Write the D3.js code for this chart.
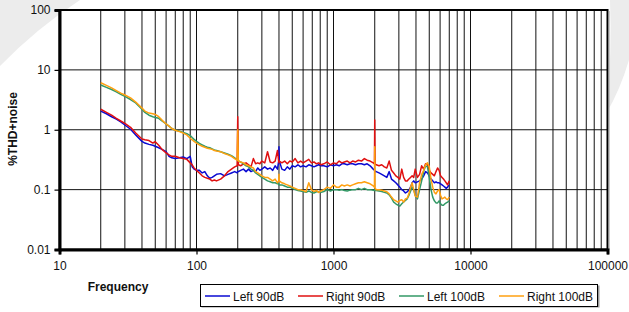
<!DOCTYPE html>
<html>
<head>
<meta charset="utf-8">
<script src="https://cdn.jsdelivr.net/npm/d3@7"></script>
<style>
  body { margin: 0; background: #fff; }
  text { font-family: Arial, "Liberation Sans", sans-serif; }
</style>
</head>
<body>
<script>
// frequency points (Hz)
const freq = [
    20, 22, 24, 26, 28, 30, 33, 36, 40, 42,
    45, 48, 50, 53, 56, 60, 63, 66, 70, 75,
    80, 85, 90, 93, 96, 100, 105, 110, 115, 120,
    125, 130, 135, 140, 150, 160, 170, 180, 190, 198,
    200, 202, 210, 220, 230, 240, 250, 260, 270, 280,
    290, 300, 315, 330, 345, 360, 375, 390, 398, 400,
    402, 420, 440, 460, 480, 500, 525, 550, 575, 600,
    630, 660, 690, 720, 750, 780, 810, 850, 900, 950,
    1000, 1050, 1100, 1150, 1200, 1260, 1320, 1380, 1450, 1520,
    1600, 1680, 1760, 1850, 1950, 1990, 2000, 2010, 2050, 2150,
    2250, 2350, 2450, 2550, 2650, 2750, 2850, 2950, 3050, 3150,
    3250, 3350, 3450, 3550, 3650, 3750, 3850, 3950, 4100, 4250,
    4400, 4550, 4700, 4850, 5000, 5150, 5300, 5450, 5600, 5750,
    5900, 6050, 6200, 6350, 6500, 6650, 6800, 7000
]

const left90 = [
    2.05, 1.85, 1.65, 1.5, 1.35, 1.2, 1.02, 0.82, 0.64, 0.6,
    0.57, 0.55, 0.53, 0.5, 0.47, 0.43, 0.36, 0.34, 0.33, 0.34,
    0.35, 0.33, 0.36, 0.24, 0.22, 0.21, 0.21, 0.19, 0.2, 0.17,
    0.155, 0.16, 0.17, 0.18, 0.185, 0.17, 0.18, 0.19, 0.2, 0.19,
    0.2, 0.2, 0.21, 0.22, 0.2, 0.22, 0.2, 0.21, 0.2, 0.23,
    0.21, 0.22, 0.24, 0.22, 0.23, 0.21, 0.25, 0.22, 0.3, 0.52,
    0.3, 0.22, 0.21, 0.24, 0.22, 0.25, 0.24, 0.26, 0.24, 0.25,
    0.24, 0.26, 0.25, 0.24, 0.25, 0.26, 0.25, 0.25, 0.24, 0.26,
    0.25, 0.26, 0.25, 0.27, 0.27, 0.26, 0.27, 0.27, 0.26, 0.27,
    0.27, 0.26, 0.27, 0.25, 0.22, 0.21, 0.21, 0.2, 0.2, 0.19,
    0.18, 0.17, 0.16, 0.2, 0.15, 0.14, 0.13, 0.12, 0.11, 0.1,
    0.095, 0.088, 0.092, 0.098, 0.11, 0.13, 0.14, 0.13, 0.135, 0.14,
    0.15, 0.17, 0.2, 0.19, 0.17, 0.15, 0.14, 0.13, 0.135, 0.13,
    0.13, 0.125, 0.12, 0.115, 0.11, 0.105, 0.11, 0.12
]

const right90 = [
    2.2, 1.95, 1.75, 1.55, 1.4, 1.28, 1.1, 0.88, 0.7, 0.68,
    0.66, 0.6, 0.63, 0.55, 0.47, 0.41, 0.38, 0.36, 0.36, 0.34,
    0.33, 0.32, 0.28, 0.26, 0.23, 0.21, 0.19, 0.17, 0.16, 0.155,
    0.15, 0.14, 0.145, 0.14, 0.15, 0.17, 0.2, 0.22, 0.24, 0.25,
    1.65, 0.26, 0.25, 0.27, 0.28, 0.26, 0.24, 0.33, 0.27, 0.28,
    0.27, 0.3, 0.28, 0.43, 0.29, 0.28, 0.3, 0.45, 0.3, 0.28,
    0.3, 0.28, 0.3, 0.27, 0.3, 0.29, 0.33, 0.28, 0.3, 0.28,
    0.3, 0.32, 0.28, 0.29, 0.27, 0.28, 0.26, 0.27, 0.29, 0.26,
    0.28, 0.27, 0.3, 0.28, 0.29, 0.3, 0.28, 0.3, 0.29, 0.31,
    0.3, 0.33, 0.31, 0.3, 0.28, 0.27, 1.45, 0.27, 0.26, 0.25,
    0.26, 0.24, 0.23, 0.3, 0.21, 0.19, 0.17, 0.16, 0.15, 0.22,
    0.16, 0.14, 0.14, 0.15, 0.16, 0.17, 0.16, 0.22, 0.16, 0.18,
    0.25, 0.22, 0.27, 0.26, 0.21, 0.19, 0.18, 0.17, 0.2, 0.23,
    0.21, 0.17, 0.16, 0.15, 0.14, 0.13, 0.12, 0.14
]

const left100 = [
    5.6, 5.1, 4.7, 4.3, 3.9, 3.6, 3.2, 2.8, 2.2, 1.95,
    1.75, 1.65, 1.6, 1.55, 1.4, 1.25, 1.15, 1.05, 0.98, 0.95,
    0.9, 0.86, 0.8, 0.74, 0.69, 0.64, 0.59, 0.56, 0.53, 0.51,
    0.5, 0.48, 0.46, 0.45, 0.43, 0.41, 0.39, 0.37, 0.34, 0.32,
    0.31, 0.3, 0.29, 0.27, 0.25, 0.24, 0.22, 0.21, 0.19, 0.18,
    0.17, 0.16, 0.15, 0.14, 0.135, 0.13, 0.13, 0.125, 0.125, 0.12,
    0.12, 0.12, 0.115, 0.11, 0.11, 0.105, 0.1, 0.097, 0.095, 0.093,
    0.09, 0.095, 0.09, 0.088, 0.092, 0.092, 0.09, 0.093, 0.1, 0.095,
    0.1, 0.1, 0.098, 0.1, 0.097, 0.095, 0.098, 0.1, 0.1, 0.105,
    0.1, 0.105, 0.1, 0.1, 0.098, 0.097, 0.1, 0.097, 0.097, 0.095,
    0.093, 0.09, 0.088, 0.082, 0.072, 0.062, 0.058, 0.055, 0.053, 0.058,
    0.062, 0.066, 0.07, 0.08, 0.094, 0.11, 0.1, 0.08, 0.07, 0.1,
    0.14, 0.2, 0.25, 0.24, 0.16, 0.1, 0.075, 0.065, 0.06, 0.06,
    0.065, 0.058, 0.055, 0.055, 0.058, 0.06, 0.062, 0.065
]

const right100 = [
    6.1, 5.5, 5.0, 4.5, 4.1, 3.8, 3.4, 2.9, 2.3, 2.05,
    1.9, 1.85, 1.8, 1.65, 1.45, 1.25, 1.15, 1.05, 0.98, 0.93,
    0.88, 0.82, 0.72, 0.68, 0.64, 0.6, 0.56, 0.53, 0.51, 0.49,
    0.48, 0.47, 0.45, 0.44, 0.43, 0.4, 0.38, 0.36, 0.33, 0.31,
    1.0, 0.3, 0.29, 0.28, 0.26, 0.25, 0.24, 0.23, 0.2, 0.19,
    0.18, 0.17, 0.16, 0.16, 0.15, 0.14, 0.15, 0.13, 0.14, 0.18,
    0.14, 0.13, 0.125, 0.12, 0.115, 0.11, 0.105, 0.1, 0.1, 0.097,
    0.092, 0.13, 0.1, 0.093, 0.097, 0.09, 0.095, 0.1, 0.11, 0.105,
    0.12, 0.11, 0.11, 0.12, 0.115, 0.12, 0.115, 0.12, 0.125, 0.13,
    0.13, 0.135, 0.13, 0.125, 0.115, 0.11, 0.52, 0.105, 0.1, 0.1,
    0.098, 0.095, 0.092, 0.085, 0.075, 0.068, 0.065, 0.062, 0.066, 0.068,
    0.062, 0.07, 0.072, 0.085, 0.11, 0.13, 0.1, 0.078, 0.075, 0.13,
    0.18, 0.21, 0.26, 0.28, 0.24, 0.15, 0.11, 0.09, 0.085, 0.095,
    0.1, 0.08, 0.07, 0.072, 0.075, 0.07, 0.068, 0.075
]

const seriesNames = ["Left 90dB", "Right 90dB", "Left 100dB", "Right 100dB"]
const seriesColors = ["#0a0ad2", "#e01010", "#339966", "#ffa010"]
const seriesValues = [left90, right90, left100, right100]

const xTicks = [10, 100, 1000, 10000, 100000]
const xTickLabels = ["10", "100", "1000", "10000", "100000"]
const yTicks = [0.01, 0.1, 1, 10, 100]
const yTickLabels = ["0.01", "0.1", "1", "10", "100"]

const width = 629
const height = 312
const plot = { left: 59.5, right: 607.5, top: 10, bottom: 249.5 }

const svg = d3.select("body")
    .append("svg")
    .attr("width", width)
    .attr("height", height)

// faint watermark behind the chart
const wm = svg.append("g").attr("fill", "#ececec")
wm.append("path")
    .attr("d", "M0,0 L80,0 A470,470 0 0,0 0,66 Z")
wm.append("path")
    .attr("d", "M610,0 L629,0 L629,60 Q620,90 607,112 Q612,50 610,0 Z")

const x = d3.scaleLog().domain([10, 100000]).range([plot.left, plot.right])
const y = d3.scaleLog().domain([0.01, 100]).range([plot.bottom, plot.top])

svg.append("rect")
    .attr("x", plot.left)
    .attr("y", plot.top)
    .attr("width", plot.right - plot.left)
    .attr("height", plot.bottom - plot.top)
    .attr("fill", "#fff")

// vertical grid, every minor log step
svg.append("g")
    .selectAll("line")
    .data(x.ticks().filter(d => d > 10 && d < 100000))
    .enter()
    .append("line")
    .attr("x1", d => x(d))
    .attr("x2", d => x(d))
    .attr("y1", plot.top)
    .attr("y2", plot.bottom)
    .attr("stroke", "#111")
    .attr("stroke-width", 1)

// horizontal grid at decades
svg.append("g")
    .selectAll("line")
    .data(yTicks.slice(1, -1))
    .enter()
    .append("line")
    .attr("x1", plot.left)
    .attr("x2", plot.right)
    .attr("y1", d => y(d))
    .attr("y2", d => y(d))
    .attr("stroke", "#111")
    .attr("stroke-width", 1)

// series
const line = d3.line()
    .x(d => x(d[0]))
    .y(d => y(d[1]))

seriesValues.forEach((vals, i) => {
    svg.append("path")
        .datum(freq.map((f, j) => [f, vals[j]]))
        .attr("fill", "none")
        .attr("stroke", seriesColors[i])
        .attr("stroke-width", 1.5)
        .attr("stroke-linejoin", "round")
        .attr("d", line)
})

// plot frame
svg.append("rect")
    .attr("x", plot.left)
    .attr("y", plot.top)
    .attr("width", plot.right - plot.left)
    .attr("height", plot.bottom - plot.top)
    .attr("fill", "none")
    .attr("stroke", "#000")
    .attr("stroke-width", 2)
svg.append("line")
    .attr("x1", plot.right + 1.5).attr("x2", plot.right + 1.5)
    .attr("y1", plot.top + 1).attr("y2", plot.bottom)
    .attr("stroke", "#999").attr("stroke-width", 1)

// axes
const yAxis = d3.axisLeft(y)
    .tickValues(yTicks)
    .tickSize(5)
    .tickPadding(4)
    .tickFormat((d, i) => yTickLabels[i])
const gy = svg.append("g")
    .attr("transform", `translate(${plot.left},0)`)
    .call(yAxis)
gy.select(".domain").attr("stroke-width", 3)
gy.selectAll(".tick line").attr("stroke-width", 1.2)

const xAxis = d3.axisBottom(x)
    .tickValues(xTicks)
    .tickSize(5)
    .tickPadding(7)
    .tickFormat((d, i) => xTickLabels[i])
const gx = svg.append("g")
    .attr("transform", `translate(0,${plot.bottom})`)
    .call(xAxis)
gx.select(".domain").attr("stroke-width", 3)
gx.selectAll(".tick line").attr("stroke-width", 1.2)

svg.selectAll(".tick text")
    .attr("font-size", 12)
    .attr("font-family", "Arial, 'Liberation Sans', sans-serif")
    .attr("fill", "#111")

// axis titles
svg.append("text")
    .attr("transform", "translate(17,129) rotate(-90)")
    .attr("text-anchor", "middle")
    .attr("font-size", 12)
    .attr("font-weight", "bold")
    .attr("fill", "#111")
    .text("%THD+noise")

svg.append("text")
    .attr("x", 118)
    .attr("y", 291)
    .attr("text-anchor", "middle")
    .attr("font-size", 12)
    .attr("font-weight", "bold")
    .attr("fill", "#111")
    .text("Frequency")

// legend
const legend = svg.append("g")
legend.append("rect")
    .attr("x", 201.5).attr("y", 285.5)
    .attr("width", 398).attr("height", 22)
    .attr("fill", "#999")
legend.append("rect")
    .attr("x", 200.5).attr("y", 284.5)
    .attr("width", 397).attr("height", 22)
    .attr("fill", "#fff")
    .attr("stroke", "#000")
    .attr("stroke-width", 1)

const legendX = [205, 298, 399, 499]
const item = legend.selectAll(".item")
    .data(seriesNames)
    .enter()
    .append("g")
    .attr("class", "item")
    .attr("transform", (d, i) => `translate(${legendX[i]},296)`)
item.append("line")
    .attr("x1", 0).attr("x2", 25)
    .attr("stroke", (d, i) => seriesColors[i])
    .attr("stroke-width", 1.5)
item.append("text")
    .attr("x", 28)
    .attr("y", 4.5)
    .attr("font-size", 12)
    .attr("fill", "#111")
    .text(d => d)
</script>
</body>
</html>
